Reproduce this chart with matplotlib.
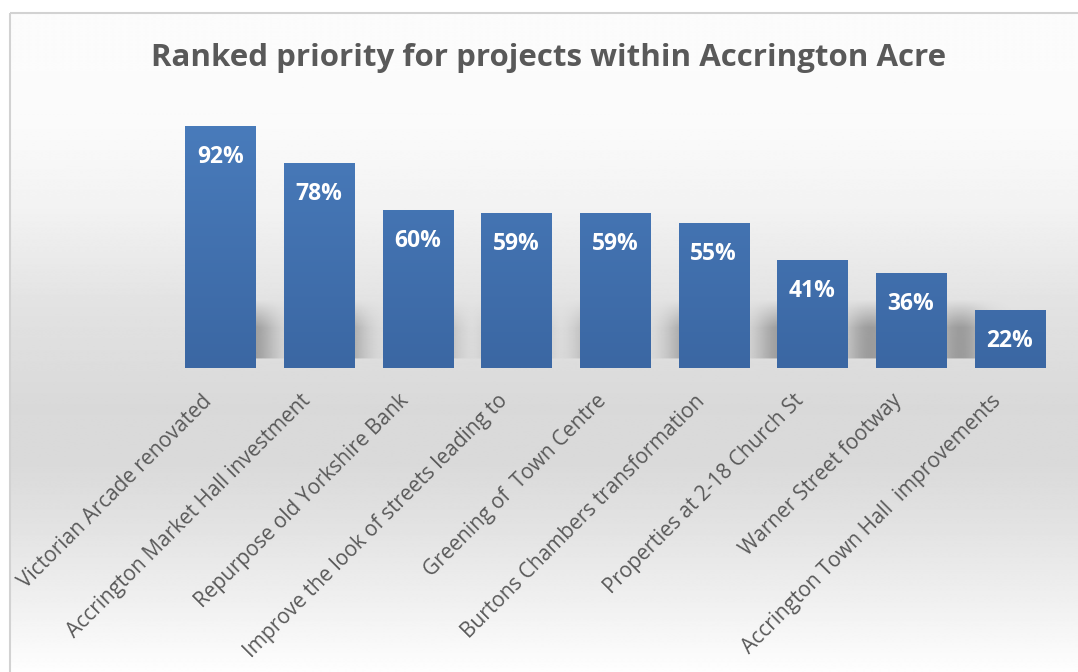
import matplotlib.pyplot as plt
import matplotlib.transforms as mtransforms
import numpy as np
from matplotlib.colors import LinearSegmentedColormap
from matplotlib.patches import Rectangle

projects = [
    "Victorian Arcade renovated",
    "Accrington Market Hall investment",
    "Repurpose old Yorkshire Bank",
    "Improve the look of streets leading to",
    "Greening of  Town Centre",
    "Burtons Chambers transformation",
    "Properties at 2-18 Church St",
    "Warner Street footway",
    "Accrington Town Hall  improvements",
]
priority = [92, 78, 60, 59, 59, 55, 41, 36, 22]

W, H = 1078, 672
fig = plt.figure(figsize=(W / 100, H / 100), dpi=100)
fig.patch.set_facecolor("white")

# backdrop: light grey band behind the bars fading to white top and bottom
bg = fig.add_axes([0, 0, 1, 1], zorder=-10)
bg.set_xlim(0, W)
bg.set_ylim(H, 0)
bg.axis("off")
ys = np.array([0, 120, 200, 300, 400, 460, 520, 600, 672])
gs = np.array([252, 250, 242, 226, 217, 218, 226, 240, 254]) / 255
col = np.interp(np.arange(H), ys, gs)
img = np.repeat(col[:, None], 2, axis=1)
bg.imshow(img, cmap="gray", vmin=0, vmax=1, aspect="auto",
          extent=[10, W, H, 13], interpolation="bilinear")
bg.add_patch(Rectangle((9.5, 13), W + 50, H + 50, fill=False,
                       ec="#d2d2d2", lw=1.5))

ax = fig.add_axes([171 / W, 304 / H, 888 / W, 263 / H])
ax.patch.set_alpha(0)
x = np.arange(len(projects))
ax.set_xlim(-0.5, len(projects) - 0.5)
ax.set_ylim(0, 100)

# soft shadows cast to the right of each bar near its base
sh = np.zeros((120, 600))
yy, xx = np.mgrid[0:120, 0:600]
for i, v in enumerate(priority):
    cx = (i + 0.38) * 60 + 30
    h = min(v, 20) * 3.0
    d = np.exp(-((xx - cx) / 18) ** 2) * np.clip((yy - (100 - h)) / 30, 0, 1) * (yy < 104)
    sh = np.maximum(sh, d)
shadow_cmap = LinearSegmentedColormap.from_list(
    "sh", [(0.35, 0.35, 0.35, 0), (0.35, 0.35, 0.35, 0.5)])
ax.imshow(sh, cmap=shadow_cmap, vmin=0, vmax=1, aspect="auto",
          extent=[-0.5, len(projects) - 0.5, -2, 40], origin="upper",
          interpolation="bilinear", zorder=1)

bar_cmap = LinearSegmentedColormap.from_list("bar", ["#3b67a3", "#4a7dbd"])
bars = ax.bar(x, priority, width=0.71, color="#4474b4", zorder=2)
grad = np.linspace(0, 1, 256)[:, None]
for b in bars:
    b.set_facecolor("none")
    im = ax.imshow(grad, cmap=bar_cmap, aspect="auto", origin="lower",
                   extent=[b.get_x(), b.get_x() + b.get_width(), 0, 100],
                   zorder=3)
    im.set_clip_path(b)

for xi, v in zip(x, priority):
    ax.text(xi, v - 11.8, f"{v}%", ha="center", va="center", color="white",
            fontsize=16.5, fontweight="bold", family="Open Sans", zorder=4)

ax.set_xticks(x)
ax.set_xticklabels(projects, rotation=45, ha="right", va="center",
                   rotation_mode="anchor", fontsize=15, color="#595959",
                   family="Open Sans")
ax.tick_params(axis="x", length=0, pad=23)
# nudge the slanted labels so their ends sit just left of each bar centre
shift = mtransforms.ScaledTranslation(-12 / 100, 2 / 100, fig.dpi_scale_trans)
for lbl in ax.get_xticklabels():
    lbl.set_transform(lbl.get_transform() + shift)
ax.set_yticks([])
for s in ax.spines.values():
    s.set_visible(False)

fig.text(549 / W, 1 - 58 / H, "Ranked priority for projects within Accrington Acre",
         ha="center", va="center", fontsize=22.5, fontweight="bold",
         color="#595959", family="Open Sans")

fig.savefig("out.png", dpi=100)
